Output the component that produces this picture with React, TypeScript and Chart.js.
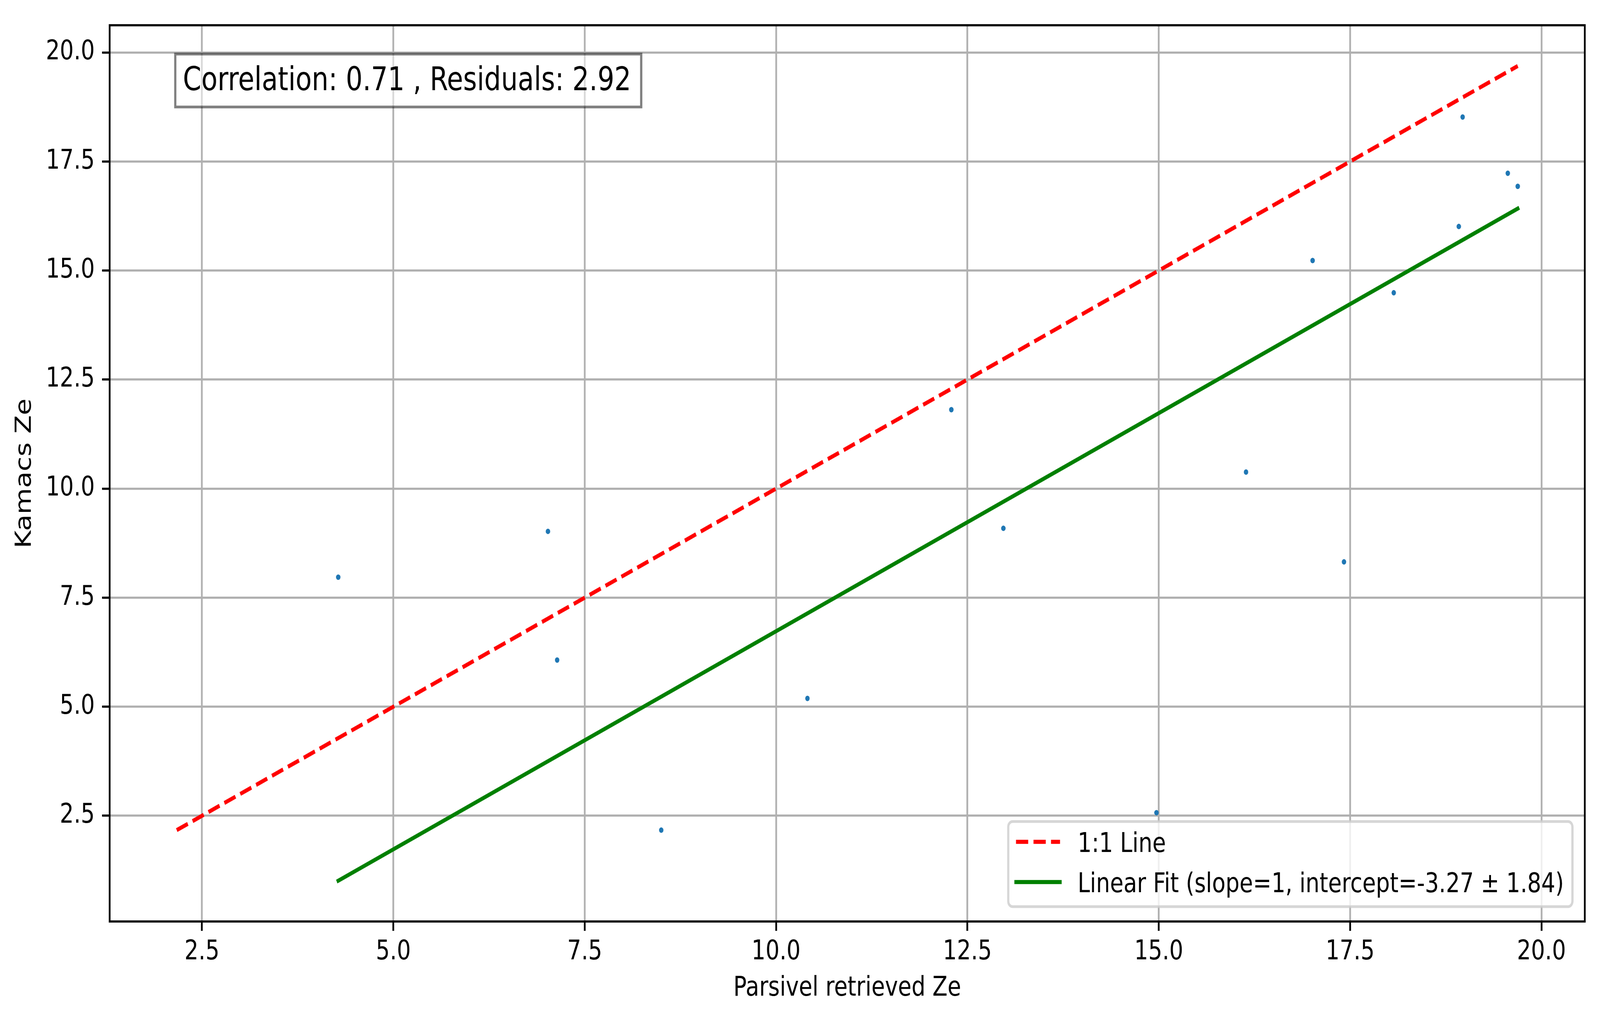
import React, { useEffect, useRef } from "react";
import { Chart, registerables } from "chart.js";

Chart.register(...registerables);

// ---- data ----
const pointX = [4.28, 7.02, 7.14, 8.5, 10.41, 12.29, 12.97, 14.97, 16.14, 17.01, 17.42, 18.07, 18.92, 18.97, 19.56, 19.69];
const pointY = [7.97, 9.02, 6.07, 2.17, 5.19, 11.81, 9.09, 2.57, 10.38, 15.23, 8.32, 14.49, 16.01, 18.52, 17.23, 16.93];

const oneToOneX = [2.17, 19.69];
const oneToOneY = [2.17, 19.69];

const fitX = [4.28, 19.69];
const fitY = [1.01, 16.42];

const xTickValues = [2.5, 5.0, 7.5, 10.0, 12.5, 15.0, 17.5, 20.0];
const yTickValues = [2.5, 5.0, 7.5, 10.0, 12.5, 15.0, 17.5, 20.0];

const xAxisTitle = "Parsivel retrieved Ze";
const yAxisTitle = "Kamacs Ze";
const statsText = "Correlation: 0.71 , Residuals: 2.92";
const legendLabels = ["1:1 Line", "Linear Fit (slope=1, intercept=-3.27 \u00b1 1.84)"];

// ---- styling (reference pixel units) ----
const W = 5048;
const H = 2620;
const PT = 6.944; // px per point
const FONT = "DejaVu Sans";
const F10 = 10 * PT;
const F12 = 12 * PT;
const LW = 1.5 * PT;
const GRID_W = 0.8 * PT;
const DASH = [3.7 * 1.5 * PT, 1.6 * 1.5 * PT];

const overlayPlugin = {
  id: "overlay",
  afterDraw(chart: any) {
    const { ctx, chartArea } = chart;
    const a = chartArea;
    ctx.save();
    // frame (spines)
    ctx.strokeStyle = "#000000";
    ctx.lineWidth = GRID_W;
    ctx.setLineDash([]);
    ctx.strokeRect(a.left, a.top, a.right - a.left, a.bottom - a.top);

    // stats text box
    ctx.fillStyle = "rgba(255,255,255,0.5)";
    ctx.fillRect(553, 138.5, 2023 - 553, 274 - 138.5);
    ctx.strokeStyle = "rgba(0,0,0,0.5)";
    ctx.lineWidth = 1 * PT;
    ctx.strokeRect(553, 138.5, 2023 - 553, 274 - 138.5);
    ctx.fillStyle = "#000000";
    ctx.font = `${F12}px "${FONT}"`;
    ctx.textBaseline = "alphabetic";
    ctx.textAlign = "left";
    ctx.fillText(statsText, 577, 231);

    // legend
    const lx = 3181, ly = 2104, lw = 4961 - 3181, lh = 2322 - 2104;
    ctx.beginPath();
    (ctx as any).roundRect(lx, ly, lw, lh, 0.2 * F10);
    ctx.fillStyle = "rgba(255,255,255,0.8)";
    ctx.fill();
    ctx.strokeStyle = "rgba(204,204,204,0.8)";
    ctx.lineWidth = 1 * PT;
    ctx.stroke();

    const hx0 = 3205.5, hx1 = 3344.4;
    ctx.beginPath();
    ctx.strokeStyle = "#ff0000";
    ctx.lineWidth = LW;
    ctx.lineCap = "butt";
    ctx.setLineDash(DASH);
    ctx.moveTo(hx0, 2156);
    ctx.lineTo(hx1, 2156);
    ctx.stroke();
    ctx.beginPath();
    ctx.setLineDash([]);
    ctx.strokeStyle = "#008000";
    ctx.lineCap = "square";
    ctx.moveTo(hx0, 2259);
    ctx.lineTo(hx1, 2259);
    ctx.stroke();

    ctx.fillStyle = "#000000";
    ctx.font = `${F10}px "${FONT}"`;
    ctx.fillText(legendLabels[0], 3400, 2181.5);
    ctx.fillText(legendLabels[1], 3400, 2284.5);
    ctx.restore();
  },
};

export default function App() {
  const canvasRef = useRef<HTMLCanvasElement | null>(null);
  const boxRef = useRef<HTMLDivElement | null>(null);

  useEffect(() => {
    document.body.style.margin = "0";
    document.body.style.overflow = "hidden";
    document.documentElement.style.overflow = "hidden";
    const canvas = canvasRef.current;
    const box = boxRef.current;
    if (!canvas || !box) return;

    // the drawing surface keeps the reference's 5048x2620 pixels; it is shown
    // stretched to whatever the viewport really is
    const cw = Math.max(100, document.documentElement.clientWidth || window.innerWidth || W);
    const ch = Math.max(100, document.documentElement.clientHeight || window.innerHeight || H);
    box.style.width = cw + "px";
    box.style.height = ch + "px";
    canvas.setAttribute("width", String(W));
    canvas.setAttribute("height", String(H));
    canvas.style.width = cw + "px";
    canvas.style.height = ch + "px";

    Chart.defaults.font.family = FONT;
    Chart.defaults.color = "#000000";

    const chart = new Chart(canvas, {
      type: "scatter",
      data: {
        datasets: [
          {
            label: legendLabels[1],
            data: fitX.map((x, i) => ({ x, y: fitY[i] })),
            showLine: true,
            borderColor: "#008000",
            backgroundColor: "#008000",
            borderWidth: LW,
            borderCapStyle: "square",
            pointRadius: 0,
            pointHoverRadius: 0,
            order: 0,
          } as any,
          {
            label: legendLabels[0],
            data: oneToOneX.map((x, i) => ({ x, y: oneToOneY[i] })),
            showLine: true,
            borderColor: "#ff0000",
            backgroundColor: "#ff0000",
            borderWidth: LW,
            borderDash: DASH,
            borderCapStyle: "butt",
            pointRadius: 0,
            pointHoverRadius: 0,
            order: 1,
          } as any,
          {
            label: "data",
            data: pointX.map((x, i) => ({ x, y: pointY[i] })),
            showLine: false,
            pointRadius: 7,
            pointHoverRadius: 7,
            pointBackgroundColor: "#1f77b4",
            pointBorderColor: "#1f77b4",
            pointBorderWidth: 0,
            order: 2,
          } as any,
        ],
      },
      options: {
        animation: false,
        responsive: false,
        devicePixelRatio: 1,
        events: [],
        layout: { padding: { top: 49, right: 48, bottom: 0, left: 0 } },
        plugins: {
          legend: { display: false },
          tooltip: { enabled: false },
          title: { display: false },
        },
        scales: {
          x: {
            type: "linear",
            position: "bottom",
            min: 1.294,
            max: 20.566,
            afterBuildTicks: (scale: any) => {
              scale.ticks = xTickValues.map((value) => ({ value }));
            },
            afterFit: (scale: any) => {
              scale.height = 260;
            },
            border: { display: false },
            grid: {
              color: "#b0b0b0",
              lineWidth: GRID_W,
              drawTicks: true,
              tickLength: 24,
              tickColor: "#000000",
              tickWidth: GRID_W,
            },
            ticks: {
              autoSkip: false,
              maxRotation: 0,
              minRotation: 0,
              padding: 13,
              color: "#000000",
              font: { size: F10, family: FONT },
              callback: (v: any) => Number(v).toFixed(1),
            },
            title: {
              display: true,
              text: xAxisTitle,
              color: "#000000",
              font: { size: F10, family: FONT },
              padding: { top: 0, bottom: 46 },
            },
          },
          y: {
            type: "linear",
            position: "left",
            min: 0.076,
            max: 20.624,
            afterBuildTicks: (scale: any) => {
              scale.ticks = yTickValues.map((value) => ({ value }));
            },
            afterFit: (scale: any) => {
              scale.width = 346;
            },
            border: { display: false },
            grid: {
              color: "#b0b0b0",
              lineWidth: GRID_W,
              drawTicks: true,
              tickLength: 24,
              tickColor: "#000000",
              tickWidth: GRID_W,
            },
            ticks: {
              autoSkip: false,
              padding: 23,
              color: "#000000",
              font: { size: F10, family: FONT },
              callback: (v: any) => Number(v).toFixed(1),
            },
            title: {
              display: true,
              text: yAxisTitle,
              color: "#000000",
              font: { size: F10, family: FONT },
              padding: { top: 37, bottom: 0 },
            },
          },
        },
      } as any,
      plugins: [overlayPlugin],
    });

    return () => {
      chart.destroy();
    };
  }, []);

  return (
    <div ref={boxRef} style={{ position: "absolute", left: 0, top: 0, background: "#ffffff", overflow: "hidden" }}>
      <canvas ref={canvasRef} width={W} height={H} style={{ display: "block" }} />
    </div>
  );
}
